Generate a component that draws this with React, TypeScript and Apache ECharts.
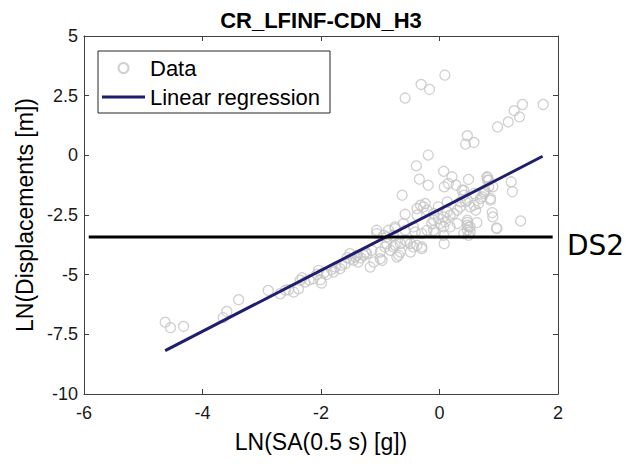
import React, { useEffect, useRef } from 'react';
import * as echarts from 'echarts';

const titleText = 'CR_LFINF-CDN_H3';
const xAxisName = 'LN(SA(0.5 s) [g])';
const yAxisName = 'LN(Displacements [m])';
const thresholdLabel = 'DS2';
const legendNames = ['Data', 'Linear regression'];

const xMin = -6;
const xMax = 2;
const xStep = 2;
const yMin = -10;
const yMax = 5;
const yStep = 2.5;

const dataX = [
  -0.58, -0.31, -0.17, 0.09, 1.75, 1.40, 1.26, 1.35, 1.16, 0.98,
  0.47, 0.44, 0.58, -0.19, -0.39, -0.34, -0.19, 0.07, 0.21, 0.15,
  0.28, 0.49, 0.81, 0.81, 1.21, 0.08, -0.63, 0.90, 1.23, 1.37,
  0.96, 0.89, 0.90, 0.63, 0.47, 0.49, 0.47, 0.49, 0.18, 0.07,
  0.08, -0.58, -0.38, -0.24, -0.27, -0.02, 0.13, 0.41, 0.44, 0.58,
  0.66, 0.72, 0.75, 0.83, 0.86, -0.10, -0.02, 0.07, 0.13, 0.18,
  0.24, 0.30, 0.35, -0.13, 0.01, 0.10, -0.75, -1.06, -0.89, -0.41,
  -0.30, -0.21, -0.07, -0.58, -0.49, -0.38, -0.30, -0.32, -0.21, -0.38,
  -0.61, -0.75, -0.86, -0.94, -0.78, -0.58, -0.44, -0.89, -0.78, -0.66,
  -0.55, -0.44, -0.49, -0.30, -0.66, -0.83, -0.10, 0.30, 0.47, 0.52,
  0.52, 0.41, 0.07, -0.10, 0.80, 0.83, 0.77, 0.75, 0.69, 0.58,
  0.47, 0.52, 0.61, 0.86, 0.97, 0.47, 0.38, 0.41, 0.35,
  -4.63, -4.54, -4.32, -3.65, -3.59, -3.39, -2.89, -2.69, -2.55, -2.46,
  -2.38, -2.35, -2.32, -2.27, -2.13, -2.07, -2.01, -1.99, -2.04, -1.90,
  -1.79, -1.76, -1.68, -1.59, -1.56, -1.51, -1.45, -1.42, -1.37, -1.39,
  -1.28, -1.23, -1.11, -1.14, -1.06, -1.00, -0.97, -0.92, -0.75, -0.72,
  -0.69, -1.17, -1.00, -2.60, -2.20, -1.95, -1.82, -1.65, -1.50, -1.33, -1.25,
];

const dataY = [
  2.40, 2.97, 2.76, 3.36, 2.13, 2.13, 1.87, 1.61, 1.40, 1.19,
  0.82, 0.47, 0.54, 0.01, -0.44, -1.00, -1.25, -0.67, -0.90, -1.18,
  -1.25, -1.01, -0.93, -1.04, -1.11, -1.32, -1.67, -1.32, -1.52, -2.75,
  -3.04, -2.40, -2.58, -2.82, -2.81, -3.00, -3.14, -3.35, -3.00, -3.00,
  -3.70, -2.47, -2.23, -2.02, -2.16, -2.16, -1.95, -1.46, -1.95, -1.60,
  -2.02, -1.74, -1.53, -1.32, -1.81, -2.44, -2.65, -2.58, -2.37, -2.51,
  -2.44, -2.30, -2.16, -2.86, -2.86, -2.79, -3.00, -3.14, -3.42, -3.21,
  -3.28, -3.14, -3.25, -3.56, -3.70, -3.77, -3.84, -2.09, -2.30, -2.51,
  -2.86, -3.07, -3.14, -3.35, -3.35, -3.14, -3.00, -3.70, -3.84, -3.70,
  -3.63, -3.84, -4.05, -3.91, -4.05, -3.98, -2.72, -2.86, -2.72, -3.00,
  -3.21, -3.28, -3.35, -3.14, -0.90, -1.04, -1.46, -1.60, -1.81, -2.09,
  -1.88, -2.16, -2.30, -1.88, -3.07, -2.93, -1.46, -1.67, -1.95,
  -6.99, -7.22, -7.17, -6.80, -6.54, -6.05, -5.66, -5.80, -5.63, -5.73,
  -5.59, -5.24, -5.13, -5.31, -5.17, -4.99, -5.21, -5.35, -4.82, -4.99,
  -4.89, -4.68, -4.75, -4.54, -4.29, -4.12, -4.40, -4.26, -4.47, -4.19,
  -4.19, -4.12, -4.47, -3.98, -3.28, -4.05, -4.40, -3.84, -3.77, -4.26,
  -4.19, -4.68, -4.33, -5.65, -5.22, -4.92, -4.78, -4.60, -4.35, -4.30, -4.05,
];

const regressionX = [-4.63, 1.74];
const regressionY = [-8.18, -0.04];

const thresholdX = [-5.92, 1.91];
const thresholdY = [-3.42, -3.42];

const FONT = '"Liberation Sans", Arial, Helvetica, sans-serif';
const AXIS_COLOR = '#404040';
const TEXT_COLOR = '#1a1a1a';
const REG_COLOR = '#1f1d6e';

export default function App() {
  const ref = useRef<HTMLDivElement | null>(null);

  useEffect(() => {
    document.body.style.margin = '0';
    if (!ref.current) return;
    const chart = echarts.init(ref.current, undefined, { renderer: 'svg' });

    const scatterData = dataX.map((x, i) => [x, dataY[i]]);
    const regressionData = regressionX.map((x, i) => [x, regressionY[i]]);
    const thresholdData = thresholdX.map((x, i) => [x, thresholdY[i]]);

    const baseX = {
      type: 'value',
      min: xMin,
      max: xMax,
      interval: xStep,
      axisLine: { show: true, onZero: false, lineStyle: { color: AXIS_COLOR, width: 1 } },
      axisTick: { show: true, inside: true, length: 5, lineStyle: { color: AXIS_COLOR } },
      splitLine: { show: false },
    };
    const baseY = {
      type: 'value',
      min: yMin,
      max: yMax,
      interval: yStep,
      axisLine: { show: true, onZero: false, lineStyle: { color: AXIS_COLOR, width: 1 } },
      axisTick: { show: true, inside: true, length: 5, lineStyle: { color: AXIS_COLOR } },
      splitLine: { show: false },
    };

    chart.setOption({
      animation: false,
      backgroundColor: '#ffffff',
      grid: { left: 84, top: 36, right: 71, bottom: 70, containLabel: false },
      xAxis: [
        {
          ...baseX,
          position: 'bottom',
          axisLabel: { show: true, fontSize: 18, color: TEXT_COLOR, fontFamily: FONT, margin: 10 },
          name: xAxisName,
          nameLocation: 'middle',
          nameGap: 36,
          nameTextStyle: { fontSize: 23, color: '#000', fontFamily: FONT },
        },
        {
          ...baseX,
          position: 'top',
          axisLabel: { show: false },
        },
      ],
      yAxis: [
        {
          ...baseY,
          position: 'left',
          axisLabel: { show: true, fontSize: 18, color: TEXT_COLOR, fontFamily: FONT, margin: 6 },
          name: yAxisName,
          nameLocation: 'middle',
          nameGap: 40,
          nameTextStyle: { fontSize: 23, color: '#000', fontFamily: FONT },
        },
        {
          ...baseY,
          position: 'right',
          axisLabel: { show: false },
        },
      ],
      legend: {
        show: true,
        orient: 'vertical',
        left: 98,
        top: 51,
        padding: [5, 10, 4, 4],
        itemGap: 5,
        itemWidth: 43,
        itemHeight: 10,
        backgroundColor: '#ffffff',
        borderColor: '#262626',
        borderWidth: 1,
        borderRadius: 0,
        textStyle: { fontSize: 22, lineHeight: 24, color: '#000', fontFamily: FONT },
        data: [
          { name: legendNames[0], icon: 'circle' },
          { name: legendNames[1], icon: 'path://M0 0H43V3H0Z', itemStyle: { color: REG_COLOR } },
        ],
      },
      graphic: [
        {
          type: 'text',
          x: 321,
          y: 20,
          style: {
            text: titleText,
            font: `bold 22px ${FONT}`,
            fill: '#000',
            textAlign: 'center',
            textVerticalAlign: 'middle',
          },
        },
        {
          type: 'text',
          x: 567,
          y: 245,
          style: {
            text: thresholdLabel,
            font: '28px "DejaVu Sans", sans-serif',
            fill: '#000',
            textAlign: 'left',
            textVerticalAlign: 'middle',
          },
        },
      ],
      series: [
        {
          name: legendNames[0],
          type: 'scatter',
          xAxisIndex: 0,
          yAxisIndex: 0,
          symbol: 'circle',
          symbolSize: 10,
          itemStyle: { color: 'rgba(255,255,255,0)', borderColor: '#c4c4c4', borderWidth: 1.3 },
          data: scatterData,
          z: 2,
        },
        {
          name: legendNames[1],
          type: 'line',
          xAxisIndex: 0,
          yAxisIndex: 0,
          showSymbol: false,
          symbol: 'none',
          lineStyle: { color: REG_COLOR, width: 3 },
          itemStyle: { color: REG_COLOR },
          data: regressionData,
          z: 3,
        },
        {
          name: 'threshold',
          type: 'line',
          xAxisIndex: 0,
          yAxisIndex: 0,
          showSymbol: false,
          symbol: 'none',
          lineStyle: { color: '#000000', width: 3 },
          data: thresholdData,
          z: 4,
        },
      ],
    });

    return () => {
      chart.dispose();
    };
  }, []);

  return <div ref={ref} style={{ width: 629, height: 464 }} />;
}
